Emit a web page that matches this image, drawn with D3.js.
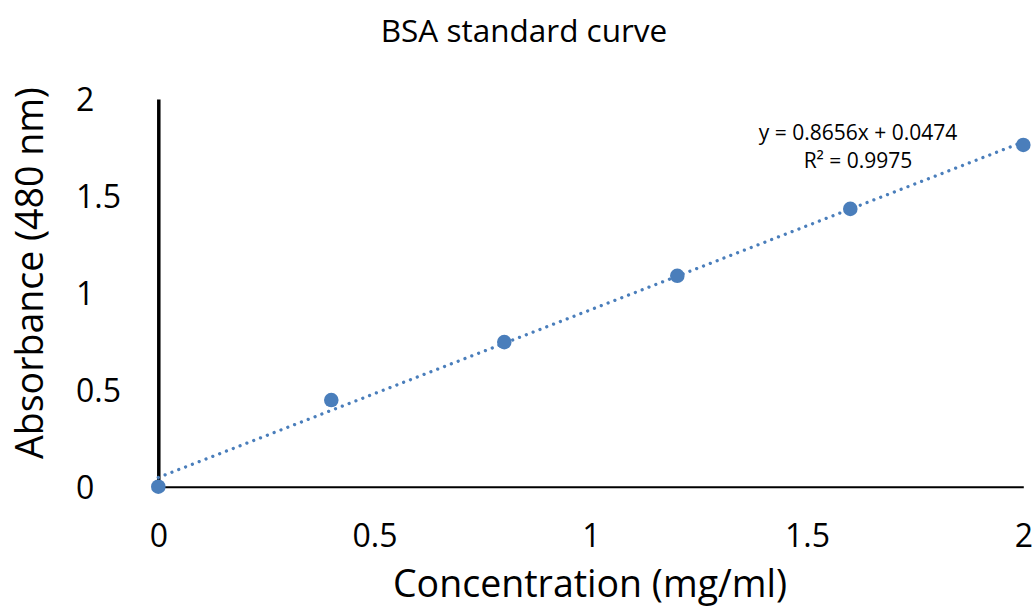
<!DOCTYPE html>
<html>
<head>
<meta charset="utf-8">
<script src="https://cdn.jsdelivr.net/npm/d3@7"></script>
<style>
  html, body { margin: 0; padding: 0; background: #fff; }
  svg { display: block; font-family: "Open Sans", "Noto Sans", sans-serif; }
</style>
</head>
<body>
<svg id="chart" width="1034" height="609"></svg>
<script>
// BSA standard curve: concentration vs absorbance at 480 nm
const concentration = [0, 0.4, 0.8, 1.2, 1.6, 2.0];
const absorbance = [0, 0.447, 0.746, 1.088, 1.433, 1.763];
const xTicks = [0, 0.5, 1, 1.5, 2];
const yTicks = [0, 0.5, 1, 1.5, 2];
// Linear trendline fit
const slope = 0.8656;
const intercept = 0.0474;
const rSquared = 0.9975;

const svg = d3.select("#chart");
const color = "#4a7ebb";

const x = d3.scaleLinear().domain([0, 2]).range([158.3, 1023.3]);
const y = d3.scaleLinear().domain([0, 2]).range([486.7, 99]);

// Title
svg.append("text")
  .attr("x", 524).attr("y", 42)
  .attr("text-anchor", "middle")
  .attr("font-size", 31.5)
  .attr("fill", "#000")
  .text("BSA standard curve");

// X axis (line only, labels below)
const xAxis = d3.axisBottom(x).tickValues(xTicks).tickSize(0).tickPadding(0)
  .tickFormat(d3.format("~g"));
const gx = svg.append("g").attr("transform", `translate(0,${y(0)})`).call(xAxis);
gx.select(".domain").attr("stroke", "#000").attr("stroke-width", 2);
gx.selectAll("text")
  .attr("font-size", 32).attr("fill", "#000")
  .attr("font-family", "'Open Sans', sans-serif")
  .attr("dy", null).attr("y", 60);

// Y axis (thick line, labels on the left)
const yAxis = d3.axisLeft(y).tickValues(yTicks).tickSize(0).tickPadding(0)
  .tickFormat(d3.format("~g"));
const gy = svg.append("g").attr("transform", `translate(${x(0)},0)`).call(yAxis);
gy.select(".domain").attr("stroke", "#000").attr("stroke-width", 3.5);
gy.selectAll("text")
  .attr("font-size", 32).attr("fill", "#000")
  .attr("font-family", "'Open Sans', sans-serif")
  .attr("text-anchor", "start")
  .attr("x", 76 - x(0))
  .attr("dy", "0.36em");

// Axis titles
svg.append("text")
  .attr("x", 590).attr("y", 597)
  .attr("text-anchor", "middle")
  .attr("font-size", 37.5)
  .attr("fill", "#000")
  .text("Concentration (mg/ml)");

svg.append("text")
  .attr("transform", "translate(43,273) rotate(-90)")
  .attr("text-anchor", "middle")
  .attr("font-size", 37.5)
  .attr("fill", "#000")
  .text("Absorbance (480 nm)");

// Trendline (dotted)
const fitLine = d3.line().x(d => x(d)).y(d => y(slope * d + intercept));
svg.append("path")
  .datum([0, 2])
  .attr("d", fitLine)
  .attr("fill", "none")
  .attr("stroke", color)
  .attr("stroke-width", 3.3)
  .attr("stroke-linecap", "round")
  .attr("stroke-dasharray", "0.01 7.3");

// Data points
svg.append("g").selectAll("circle")
  .data(concentration.map((c, i) => [c, absorbance[i]]))
  .join("circle")
  .attr("cx", d => x(d[0]))
  .attr("cy", d => y(d[1]))
  .attr("r", 7.3)
  .attr("fill", color);

// Trendline equation
const eq = svg.append("text")
  .attr("text-anchor", "middle")
  .attr("font-size", 21)
  .attr("fill", "#000");
eq.append("tspan").attr("x", 858).attr("y", 140)
  .text(`y = ${slope}x + ${intercept}`);
eq.append("tspan").attr("x", 858).attr("y", 168)
  .text(`R² = ${rSquared}`);
</script>
</body>
</html>
